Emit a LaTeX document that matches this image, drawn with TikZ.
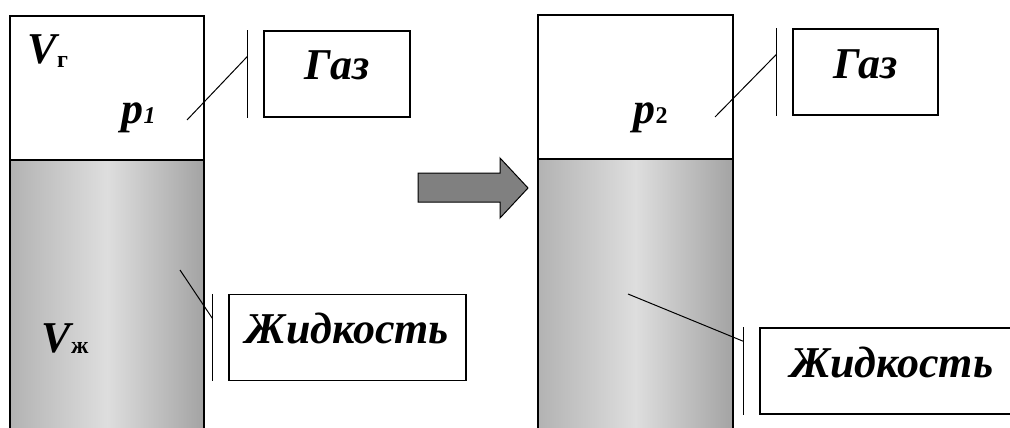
\documentclass[tikz,border=0pt]{standalone}
\usepackage{fontspec}
\setmainfont{Liberation Serif}
\usetikzlibrary{positioning,calc}

\begin{document}
\begin{tikzpicture}[x=1pt,y=-1pt,line width=1.4pt,node distance=16pt]
  \tikzstyle{every node}=[font=\fontsize{44}{44}\selectfont\bfseries\itshape]
  \tikzstyle{tag}=[draw,line width=1.4pt,minimum height=86pt,inner sep=0pt,
                   text height=29pt,text depth=17pt]
  \tikzstyle{sym}=[anchor=base west,inner sep=0pt]
  \tikzstyle{lead}=[line width=1pt]
  \tikzstyle{liquid}=[left color=black!30,right color=black!36,middle color=black!13]
  \newcommand{\subs}[2][0pt]{\raisebox{#1}{\fontsize{24}{24}\selectfont #2}}

  \clip (0,0) rectangle (1010,428);

  % left vessel
  \fill[liquid] (10,160) rectangle (204,428);
  \draw (10,430) -- (10,16) -- (204,16) -- (204,430);
  \draw (10,160) -- (204,160);
  % right vessel
  \fill[liquid] (538,159) rectangle (733,428);
  \draw (538,430) -- (538,15) -- (733,15) -- (733,430);
  \draw (538,159) -- (733,159);

  % arrow
  \draw[line width=1pt,fill=black!50] (418,173) -- (500,173) -- (500,158) -- (528,188)
    -- (500,218) -- (500,202) -- (418,202) -- cycle;

  % symbols
  \node[sym] (Vg) at (27,64)  {V\subs[-3pt]{\upshape г}};
  \node[sym] (p1) at (121,124) {p\subs{1}};
  \node[sym] (p2) at (633,123) {p\subs{\upshape 2}};
  \node[sym] (Vz) at (41,352) {V\subs[-1pt]{\upshape ж}};

  % labels
  \node[tag,minimum width=146pt] (gas1) at (337,74)      {Газ};
  \node[tag,minimum width=237pt] (liq1) at (347.5,337.5) {Жидкость};
  \node[tag,minimum width=145pt] (gas2) at (865.5,72)    {Газ};
  \node[tag,text width=200pt,align=left,inner xsep=30pt] (liq2) at (890,371) {Жидкость};

  % bars
  \coordinate[left=of gas1.north west] (gas1 top);
  \coordinate[left=of gas1.south west] (gas1 bot);
  \coordinate[left=of liq1.north west] (liq1 top);
  \coordinate[left=of liq1.south west] (liq1 bot);
  \coordinate[left=of gas2.north west] (gas2 top);
  \coordinate[left=of gas2.south west] (gas2 bot);
  \coordinate[left=of liq2.north west] (liq2 top);
  \coordinate[left=of liq2.south west] (liq2 bot);
  \draw[lead] (gas1 top) -- (gas1 bot);
  \draw[lead] (liq1 top) -- (liq1 bot);
  \draw[lead] (gas2 top) -- (gas2 bot);
  \draw[lead] (liq2 top) -- (liq2 bot);

  % leaders
  \coordinate (gas1 in) at (187,120);
  \coordinate (liq1 in) at (180,270);
  \coordinate (gas2 in) at (715,117);
  \coordinate (liq2 in) at (628,294);
  \draw[lead] (gas1 in) -- ($(gas1 top)!0.3!(gas1 bot)$);
  \draw[lead] (liq1 in) -- ($(liq1 top)!0.28!(liq1 bot)$);
  \draw[lead] (gas2 in) -- ($(gas2 top)!0.3!(gas2 bot)$);
  \draw[lead] (liq2 in) -- ($(liq2 top)!0.16!(liq2 bot)$);
\end{tikzpicture}
\end{document}
